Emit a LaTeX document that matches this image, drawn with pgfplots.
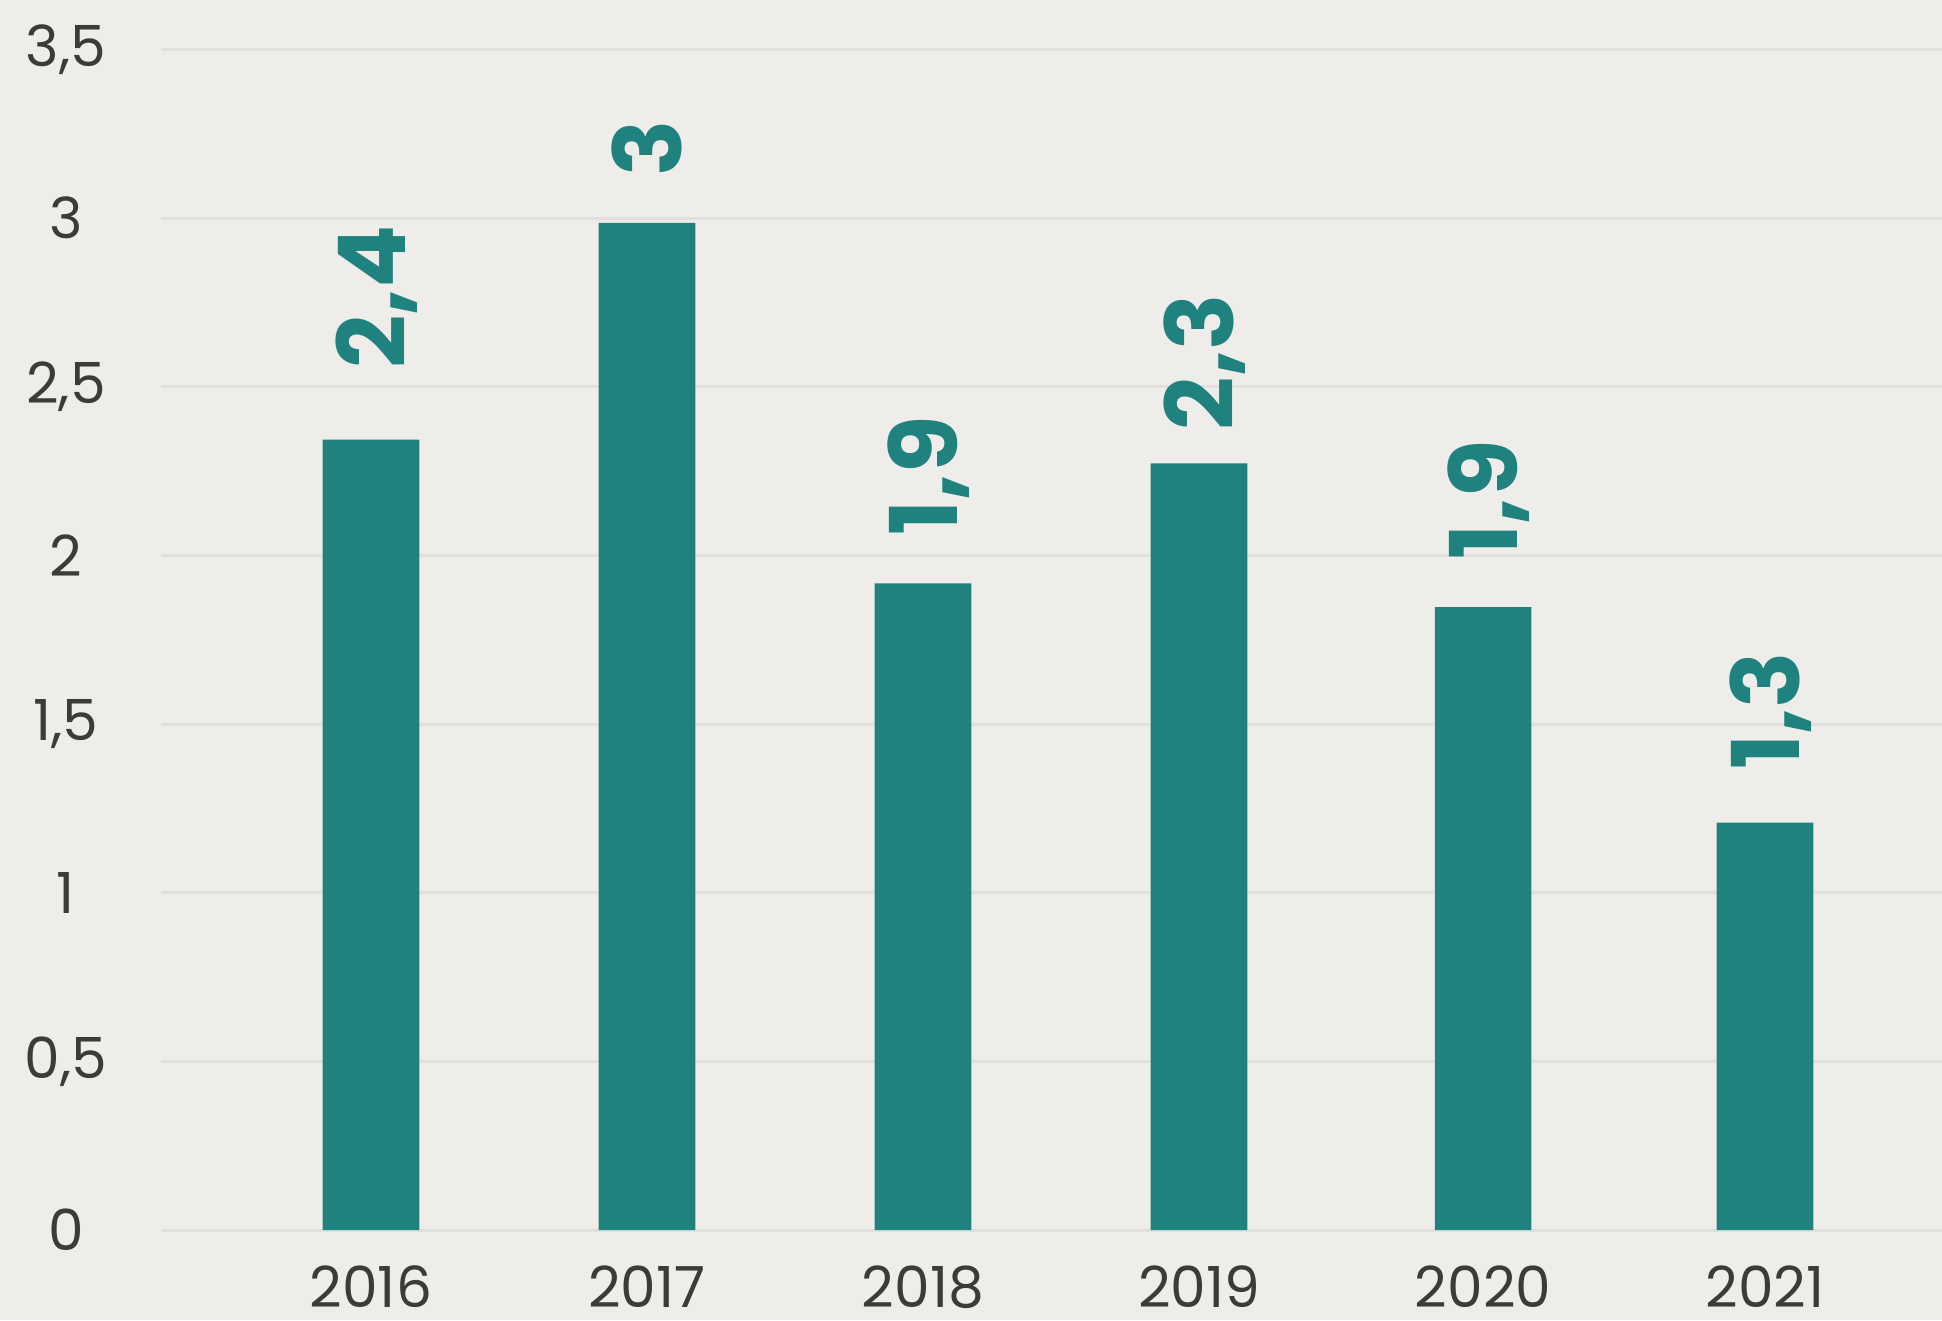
\documentclass[border=0pt]{standalone}
\usepackage{pgfplots}
\pgfplotsset{compat=1.18}
\usepackage{pgfplotstable}
\usepackage{fontspec}
\setmainfont{Poppins}
\newfontfamily\labfont{Poppins}
\definecolor{bg}{HTML}{EEEDE9}
\definecolor{barc}{HTML}{20827F}
\definecolor{gridc}{HTML}{E1E0DC}
\definecolor{tickc}{HTML}{3B3B39}

\pgfplotstableread{
x     y     ly    lab
0     2.343 2.552 2,4
0.990 2.986 3.122 3
1.980 1.917 2.057 1,9
2.970 2.273 2.369 2,3
3.989 1.847 1.987 1,9
5     1.208 1.362 1,3
}\data

\begin{document}
\begin{tikzpicture}
\useasboundingbox (0,0) rectangle (582.6pt,396pt);
\fill[bg] (0,0) rectangle (582.6pt,396pt);
\begin{axis}[
  at={(48.3pt,27pt)}, anchor=south west,
  scale only axis, width=534.3pt, height=354.15pt,
  xmin=-0.753, xmax=5.635, ymin=0, ymax=3.5,
  axis line style={draw=none},
  tick style={draw=none},
  major tick length=0pt,
  xtick={0,0.990,1.980,2.970,3.989,5},
  xticklabels={2016,2017,2018,2019,2020,2021},
  ytick={0,0.5,1,1.5,2,2.5,3,3.5},
  yticklabels={0,{0,5},1,{1,5},2,{2,5},3,{3,5}},
  ymajorgrids,
  grid style={gridc, line width=0.9pt},
  ticklabel style={font=\fontsize{17}{19}\selectfont, text=tickc},
  xticklabel style={anchor=north, inner sep=0pt, yshift=-10.5pt},
  yticklabel style={anchor=center, inner sep=0pt, xshift=-28.5pt},
  clip=false,
]
\addplot[ybar, bar width=29pt, fill=barc, draw=none] table[x=x, y=y] {\data};
\addplot[draw=none, mark=none, nodes near coords, point meta=explicit symbolic,
  every node near coord/.append style={rotate=90, anchor=west, inner sep=0pt,
    font=\labfont\bfseries\fontsize{28}{30}\selectfont, text=barc, text depth=0pt}]
  table[x=x, y=ly, meta=lab] {\data};
\end{axis}
\end{tikzpicture}
\end{document}
